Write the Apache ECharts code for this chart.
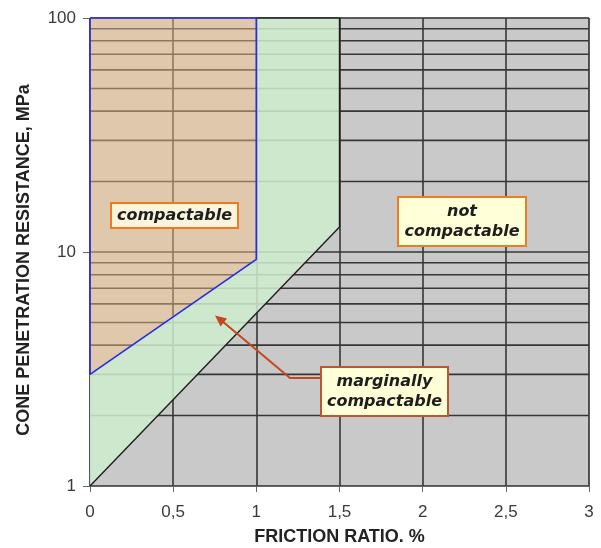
<!DOCTYPE html>
<html>
<head>
<meta charset="utf-8">
<script src="https://cdn.jsdelivr.net/npm/echarts@6/dist/echarts.min.js"></script>
<style>html,body{margin:0;padding:0;background:#fff}#c{width:601px;height:548px}</style>
</head>
<body>
<div id="c"></div>
<script>
// ---- data ----
const xTicks = [0, 0.5, 1, 1.5, 2, 2.5, 3];
const yTicks = [1, 10, 100];
const minorGridValues = [2, 3, 4, 5, 6, 7, 8, 9, 20, 30, 40, 50, 60, 70, 80, 90];
// compactable zone boundary (friction ratio %, cone resistance MPa)
const compactableBoundary = [[0, 100], [0, 3], [1, 9.3], [1, 100], [0, 100]];
// marginally compactable lower/right boundary
const marginalBoundary = [[1, 100], [1.5, 100], [1.5, 12.8], [0, 1]];
const zoneLabels = ['compactable', 'not\ncompactable', 'marginally\ncompactable'];
const xTitle = 'FRICTION RATIO. %';
const yTitle = 'CONE PENETRATION RESISTANCE, MPa';

const chart = echarts.init(document.getElementById('c'), null, {renderer: 'canvas'});

function polyRender(points, fill) {
  return function (params, api) {
    return {
      type: 'polygon',
      shape: {points: points.map(p => api.coord(p))},
      style: {fill: fill}
    };
  };
}
const marginalPolygon = marginalBoundary.concat([[0, 3], [1, 9.3]]);
const gridColor = '#363636';
const gridWidth = 1.6;

const option = {
  animation: false,
  grid: {left: 90, right: 12, top: 18, bottom: 62, show: true, containLabel: false,
         outerBoundsMode: 'none',
         backgroundColor: '#c9c9c9', borderColor: '#a8a8a8', borderWidth: 1},
  xAxis: {
    type: 'value', min: 0, max: 3, interval: 0.5,
    name: xTitle, nameLocation: 'middle', nameGap: 42,
    nameTextStyle: {fontFamily: 'Liberation Sans', fontWeight: 'bold', fontSize: 18, color: '#222'},
    axisLine: {lineStyle: {color: '#666', width: 1}},
    axisTick: {show: true, length: 6, lineStyle: {color: '#666'}},
    axisLabel: {margin: 18, fontFamily: 'Liberation Sans', fontSize: 17, color: '#3a3a3a',
      formatter: v => xTicks.indexOf(v) >= 0 ? String(v).replace('.', ',') : ''},
    splitLine: {show: true, lineStyle: {color: gridColor, width: gridWidth}}
  },
  yAxis: {
    type: 'log', logBase: 10, min: 1, max: 100,
    name: yTitle, nameLocation: 'middle', nameGap: 57,
    nameTextStyle: {fontFamily: 'Liberation Sans', fontWeight: 'bold', fontSize: 18, color: '#222',
                    padding: [0, 16, 0, 0]},
    axisLine: {show: true, lineStyle: {color: '#8a8a8a', width: 1}},
    axisTick: {show: true, length: 7, lineStyle: {color: '#666'}},
    axisLabel: {margin: 14, fontFamily: 'Liberation Sans', fontSize: 17, color: '#3a3a3a',
      formatter: v => yTicks.indexOf(Math.round(v)) >= 0 ? String(Math.round(v)) : ''},
    splitLine: {show: true, lineStyle: {color: gridColor, width: gridWidth}}
  },
  series: [
    {
      type: 'custom', z: 1, silent: true,
      data: minorGridValues.map(v => [0, v]),
      renderItem: function (params, api) {
        const a = api.coord([0, api.value(1)]);
        const b = api.coord([3, api.value(1)]);
        return {type: 'line', shape: {x1: a[0], y1: a[1], x2: b[0], y2: b[1]},
                style: {stroke: gridColor, lineWidth: gridWidth}};
      }
    },
    {
      type: 'custom', z: 2, silent: true, data: [[0, 1]],
      renderItem: polyRender(compactableBoundary, 'rgba(252,200,140,0.45)')
    },
    {
      type: 'custom', z: 2, silent: true, data: [[0, 1]],
      renderItem: polyRender(marginalPolygon, 'rgba(206,236,206,0.86)')
    },
    {
      type: 'line', z: 3, silent: true, symbol: 'none',
      data: marginalBoundary,
      lineStyle: {color: '#1e1e1e', width: 1.4}
    },
    {
      type: 'line', z: 4, silent: true, symbol: 'none',
      data: compactableBoundary,
      lineStyle: {color: '#2b2be6', width: 1.7}
    }
  ],
  graphic: [
    {type: 'rect', z: 10, shape: {x: 111, y: 203, width: 127, height: 25},
     style: {fill: '#fbf4dc', stroke: '#ee7a22', lineWidth: 2}},
    {type: 'text', z: 11, x: 174.5, y: 215.5,
     style: {text: zoneLabels[0], fontFamily: 'DejaVu Sans', fontStyle: 'italic', fontWeight: 'bold',
             fontSize: 16, fill: '#1e1e1e', align: 'center', verticalAlign: 'middle'}},
    {type: 'rect', z: 10, shape: {x: 398, y: 197, width: 128, height: 49},
     style: {fill: '#ffffd8', stroke: '#ee7a22', lineWidth: 2}},
    {type: 'text', z: 11, x: 462, y: 221.5,
     style: {text: zoneLabels[1], fontFamily: 'DejaVu Sans', fontStyle: 'italic', fontWeight: 'bold',
             fontSize: 16, lineHeight: 20, fill: '#1e1e1e', align: 'center', verticalAlign: 'middle'}},
    {type: 'rect', z: 10, shape: {x: 321, y: 367, width: 127, height: 49},
     style: {fill: '#ffffd8', stroke: '#c0552d', lineWidth: 2}},
    {type: 'text', z: 11, x: 384.5, y: 391.5,
     style: {text: zoneLabels[2], fontFamily: 'DejaVu Sans', fontStyle: 'italic', fontWeight: 'bold',
             fontSize: 16, lineHeight: 20, fill: '#1e1e1e', align: 'center', verticalAlign: 'middle'}},
    {type: 'polyline', z: 9, shape: {points: [[320, 378], [290, 378], [222, 321]]},
     style: {stroke: '#c4481e', lineWidth: 2, fill: null}},
    {type: 'polygon', z: 9, shape: {points: [[215, 315.5], [227, 318.5], [220.5, 326.5]]},
     style: {fill: '#c4481e'}}
  ]
};
chart.setOption(option);
</script>
</body>
</html>
